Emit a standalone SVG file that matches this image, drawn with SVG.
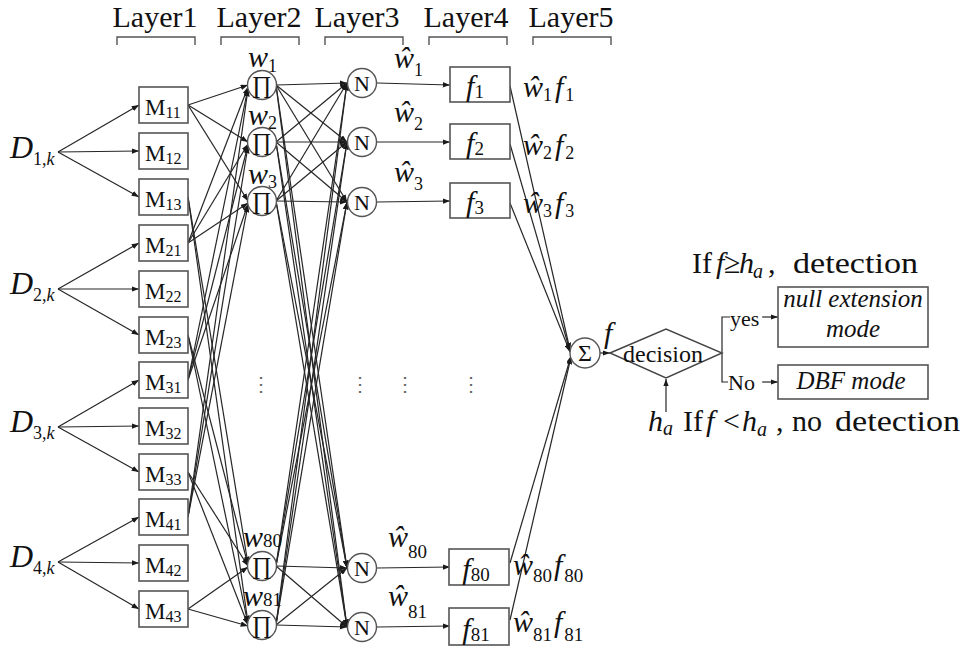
<svg xmlns="http://www.w3.org/2000/svg" width="962" height="650" viewBox="0 0 962 650" font-family="Liberation Serif, Tinos, Times New Roman, DejaVu Serif, serif">
<defs>
<marker id="ah" viewBox="0 0 8 6" refX="8" refY="3" markerWidth="7.5" markerHeight="5.5" markerUnits="userSpaceOnUse" orient="auto">
<path d="M0,0 L8,3 L0,6 z" fill="#1a1a1a"/>
</marker>
<style>
.t{fill:#111}
.i{font-style:italic}
.ln{stroke:#262626;stroke-width:1.2;fill:none}
.a{marker-end:url(#ah)}
.box{fill:#fff;stroke:#555;stroke-width:1.6}
.circ{fill:#fff;stroke:#555;stroke-width:1.4}
.brk{fill:none;stroke:#555;stroke-width:1.4}
.dots{font-size:20px;fill:#666}
</style>
</defs>
<rect width="962" height="650" fill="#fff"/>

<g id="headers" font-size="30" text-anchor="middle">
<text class="t" x="155" y="27">Layer1</text>
<text class="t" x="259" y="27">Layer2</text>
<text class="t" x="357" y="27">Layer3</text>
<text class="t" x="466" y="27">Layer4</text>
<text class="t" x="571" y="27">Layer5</text>
</g>
<g id="brackets" class="brk">
<path d="M117,45 V37 H195 V45"/>
<path d="M221,45 V37 H299 V45"/>
<path d="M325,45 V37 H403 V45"/>
<path d="M429,45 V37 H507 V45"/>
<path d="M533,45 V37 H611 V45"/>
</g>

<g id="connectors">
<g class="ln a">
<path d="M58,152 L139,105"/><path d="M58,152 L139,151"/><path d="M58,152 L139,197"/>
<path d="M58,289 L139,243"/><path d="M58,289 L139,289"/><path d="M58,289 L139,335"/>
<path d="M58,427 L139,380"/><path d="M58,427 L139,426"/><path d="M58,427 L139,472"/>
<path d="M58,562 L139,517"/><path d="M58,562 L139,563"/><path d="M58,562 L139,609"/>
<path d="M188,105 L248,85"/><path d="M188,105 L248,142"/><path d="M188,105 L248,201"/>
<path d="M188,243 L248,87"/><path d="M188,243 L248,144"/><path d="M188,243 L248,203"/>
<path d="M188,380 L248,88"/><path d="M188,380 L248,145"/><path d="M188,380 L248,204"/>
<path d="M188,517 L248,89"/><path d="M188,517 L248,146"/><path d="M188,517 L248,205"/>
<path d="M188,197 L248,564"/><path d="M188,197 L248,623"/>
<path d="M188,335 L248,565"/><path d="M188,335 L248,624"/>
<path d="M188,472 L248,566"/><path d="M188,472 L248,625"/>
<path d="M188,609 L248,567"/><path d="M188,609 L248,626"/>
<path d="M276,85 L347,83"/><path d="M276,85 L347,142"/><path d="M276,85 L347,202"/><path d="M276,85 L347,568"/><path d="M276,85 L347,627"/>
<path d="M276,142 L347,83"/><path d="M276,142 L347,142"/><path d="M276,142 L347,202"/><path d="M276,142 L347,568"/><path d="M276,142 L347,627"/>
<path d="M276,201 L347,83"/><path d="M276,201 L347,142"/><path d="M276,201 L347,202"/><path d="M276,201 L347,568"/><path d="M276,201 L347,627"/>
<path d="M276,566 L347,83"/><path d="M276,566 L347,142"/><path d="M276,566 L347,202"/><path d="M276,566 L347,568"/><path d="M276,566 L347,627"/>
<path d="M276,625 L347,83"/><path d="M276,625 L347,142"/><path d="M276,625 L347,202"/><path d="M276,625 L347,568"/><path d="M276,625 L347,627"/>
<path d="M377,83 L450,85"/><path d="M377,142 L450,142"/><path d="M377,202 L450,201"/>
<path d="M377,568 L450,567"/><path d="M377,627 L450,626"/>
<path d="M510,86 L570,350"/><path d="M510,144 L570,351"/><path d="M510,203 L570,352"/>
<path d="M510,563 L571,356"/><path d="M510,620 L571,357"/>
<path d="M600,353 L610,353"/>
<path d="M666,412 L666,379"/>
<path d="M762,317 L778,317"/>
<path d="M762,382 L778,382"/>
</g>
<path class="ln" d="M730,317 H722 V382 H728"/>
</g>

<g id="D1"><text class="t" x="10" y="158"><tspan class="i" font-size="32">D</tspan><tspan font-size="18" dy="7">1,</tspan><tspan class="i" font-size="18">k</tspan></text></g>
<g id="D2"><text class="t" x="10" y="294"><tspan class="i" font-size="32">D</tspan><tspan font-size="18" dy="7">2,</tspan><tspan class="i" font-size="18">k</tspan></text></g>
<g id="D3"><text class="t" x="10" y="432"><tspan class="i" font-size="32">D</tspan><tspan font-size="18" dy="7">3,</tspan><tspan class="i" font-size="18">k</tspan></text></g>
<g id="D4"><text class="t" x="10" y="567"><tspan class="i" font-size="32">D</tspan><tspan font-size="18" dy="7">4,</tspan><tspan class="i" font-size="18">k</tspan></text></g>

<g id="M11"><rect class="box" x="139" y="87" width="49" height="36"/><text class="t" x="145" y="115" font-size="23">M<tspan font-size="16" dy="3">11</tspan></text></g>
<g id="M12"><rect class="box" x="139" y="133" width="49" height="36"/><text class="t" x="145" y="161" font-size="23">M<tspan font-size="16" dy="3">12</tspan></text></g>
<g id="M13"><rect class="box" x="139" y="179" width="49" height="36"/><text class="t" x="145" y="207" font-size="23">M<tspan font-size="16" dy="3">13</tspan></text></g>
<g id="M21"><rect class="box" x="139" y="225" width="49" height="36"/><text class="t" x="145" y="253" font-size="23">M<tspan font-size="16" dy="3">21</tspan></text></g>
<g id="M22"><rect class="box" x="139" y="271" width="49" height="36"/><text class="t" x="145" y="299" font-size="23">M<tspan font-size="16" dy="3">22</tspan></text></g>
<g id="M23"><rect class="box" x="139" y="317" width="49" height="36"/><text class="t" x="145" y="345" font-size="23">M<tspan font-size="16" dy="3">23</tspan></text></g>
<g id="M31"><rect class="box" x="139" y="362" width="49" height="36"/><text class="t" x="145" y="390" font-size="23">M<tspan font-size="16" dy="3">31</tspan></text></g>
<g id="M32"><rect class="box" x="139" y="408" width="49" height="36"/><text class="t" x="145" y="436" font-size="23">M<tspan font-size="16" dy="3">32</tspan></text></g>
<g id="M33"><rect class="box" x="139" y="454" width="49" height="36"/><text class="t" x="145" y="482" font-size="23">M<tspan font-size="16" dy="3">33</tspan></text></g>
<g id="M41"><rect class="box" x="139" y="499" width="49" height="36"/><text class="t" x="145" y="527" font-size="23">M<tspan font-size="16" dy="3">41</tspan></text></g>
<g id="M42"><rect class="box" x="139" y="545" width="49" height="36"/><text class="t" x="145" y="573" font-size="23">M<tspan font-size="16" dy="3">42</tspan></text></g>
<g id="M43"><rect class="box" x="139" y="591" width="49" height="36"/><text class="t" x="145" y="619" font-size="23">M<tspan font-size="16" dy="3">43</tspan></text></g>

<g id="P1"><circle class="circ" cx="262" cy="85" r="14.5"/><text class="t" x="262" y="93" font-size="24" text-anchor="middle">∏</text><text class="t" x="248" y="67"><tspan class="i" font-size="30">w</tspan><tspan font-size="18" dy="5">1</tspan></text></g>
<g id="P2"><circle class="circ" cx="262" cy="142" r="14.5"/><text class="t" x="262" y="150" font-size="24" text-anchor="middle">∏</text><text class="t" x="248" y="125"><tspan class="i" font-size="30">w</tspan><tspan font-size="18" dy="4">2</tspan></text></g>
<g id="P3"><circle class="circ" cx="262" cy="201" r="14.5"/><text class="t" x="262" y="209" font-size="24" text-anchor="middle">∏</text><text class="t" x="248" y="184"><tspan class="i" font-size="30">w</tspan><tspan font-size="18" dy="4">3</tspan></text></g>
<g id="P80"><circle class="circ" cx="262" cy="566" r="14.5"/><text class="t" x="262" y="574" font-size="24" text-anchor="middle">∏</text><text class="t" x="243" y="547"><tspan class="i" font-size="30">w</tspan><tspan font-size="19">80</tspan></text></g>
<g id="P81"><circle class="circ" cx="262" cy="625" r="14.5"/><text class="t" x="262" y="633" font-size="24" text-anchor="middle">∏</text><text class="t" x="243" y="606"><tspan class="i" font-size="30">w</tspan><tspan font-size="19">81</tspan></text></g>

<g id="N1"><circle class="circ" cx="362" cy="83" r="14.5"/><text class="t" x="362" y="91" font-size="22" text-anchor="middle">N</text><text class="t" x="394" y="68"><tspan class="i" font-size="30">ŵ</tspan><tspan font-size="18" dy="8">1</tspan></text></g>
<g id="N2"><circle class="circ" cx="362" cy="142" r="14.5"/><text class="t" x="362" y="150" font-size="22" text-anchor="middle">N</text><text class="t" x="394" y="122"><tspan class="i" font-size="30">ŵ</tspan><tspan font-size="18" dy="8">2</tspan></text></g>
<g id="N3"><circle class="circ" cx="362" cy="202" r="14.5"/><text class="t" x="362" y="210" font-size="22" text-anchor="middle">N</text><text class="t" x="394" y="182"><tspan class="i" font-size="30">ŵ</tspan><tspan font-size="18" dy="8">3</tspan></text></g>
<g id="N80"><circle class="circ" cx="362" cy="568" r="14.5"/><text class="t" x="362" y="576" font-size="22" text-anchor="middle">N</text><text class="t" x="388" y="547"><tspan class="i" font-size="30">ŵ</tspan><tspan font-size="19" dy="11">80</tspan></text></g>
<g id="N81"><circle class="circ" cx="362" cy="627" r="14.5"/><text class="t" x="362" y="635" font-size="22" text-anchor="middle">N</text><text class="t" x="388" y="606"><tspan class="i" font-size="30">ŵ</tspan><tspan font-size="19" dy="12">81</tspan></text></g>

<g id="F1"><rect class="box" x="450" y="67" width="60" height="35"/><text class="t" x="475" y="96" text-anchor="middle"><tspan class="i" font-size="30">f</tspan><tspan font-size="19" dy="2">1</tspan></text><text class="t" x="523" y="97"><tspan class="i" font-size="30">ŵ</tspan><tspan font-size="18" dy="4">1</tspan><tspan class="i" font-size="30" dy="-4" dx="3">f</tspan><tspan font-size="18" dy="4" dx="2">1</tspan></text></g>
<g id="F2"><rect class="box" x="450" y="124" width="60" height="35"/><text class="t" x="475" y="153" text-anchor="middle"><tspan class="i" font-size="30">f</tspan><tspan font-size="19" dy="2">2</tspan></text><text class="t" x="523" y="155"><tspan class="i" font-size="30">ŵ</tspan><tspan font-size="18" dy="4">2</tspan><tspan class="i" font-size="30" dy="-4" dx="3">f</tspan><tspan font-size="18" dy="4" dx="2">2</tspan></text></g>
<g id="F3"><rect class="box" x="450" y="183" width="60" height="35"/><text class="t" x="475" y="212" text-anchor="middle"><tspan class="i" font-size="30">f</tspan><tspan font-size="19" dy="2">3</tspan></text><text class="t" x="523" y="213"><tspan class="i" font-size="30">ŵ</tspan><tspan font-size="18" dy="4">3</tspan><tspan class="i" font-size="30" dy="-4" dx="3">f</tspan><tspan font-size="18" dy="4" dx="2">3</tspan></text></g>
<g id="F80"><rect class="box" x="449" y="549" width="60" height="36"/><text class="t" x="476" y="579" text-anchor="middle"><tspan class="i" font-size="30">f</tspan><tspan font-size="19" dy="2">80</tspan></text><text class="t" x="513" y="575"><tspan class="i" font-size="30">ŵ</tspan><tspan font-size="19" dy="7">80</tspan><tspan class="i" font-size="30" dy="-7" dx="2">f</tspan><tspan font-size="19" dy="7" dx="2">80</tspan></text></g>
<g id="F81"><rect class="box" x="449" y="608" width="60" height="37"/><text class="t" x="476" y="639" text-anchor="middle"><tspan class="i" font-size="30">f</tspan><tspan font-size="19" dy="2">81</tspan></text><text class="t" x="513" y="632"><tspan class="i" font-size="30">ŵ</tspan><tspan font-size="19" dy="9">81</tspan><tspan class="i" font-size="30" dy="-9" dx="2">f</tspan><tspan font-size="19" dy="9" dx="2">81</tspan></text></g>

<g id="ellipses">
<text class="dots" x="261" y="391" text-anchor="middle">⋮</text>
<text class="dots" x="360" y="391" text-anchor="middle">⋮</text>
<text class="dots" x="405" y="391" text-anchor="middle">⋮</text>
<text class="dots" x="471" y="391" text-anchor="middle">⋮</text>
</g>

<g id="SUM"><circle class="circ" cx="585" cy="353" r="15"/><text class="t" x="585" y="361" font-size="24" text-anchor="middle">Σ</text><text class="t i" x="604" y="343" font-size="30">f</text></g>

<g id="decision"><path d="M610,353 L666,329 L722,353 L666,378 Z" fill="#fff" stroke="#444" stroke-width="1.4"/><text class="t" x="663" y="362" font-size="24" text-anchor="middle">decision</text></g>

<g id="ha"><text class="t" x="648" y="431"><tspan class="i" font-size="30">h</tspan><tspan class="i" font-size="20" dy="4">a</tspan></text></g>

<g id="labels-branch">
<text class="t" x="730" y="326" font-size="22" fill="#333">yes</text>
<text class="t" x="728" y="390" font-size="22" fill="#333">No</text>
</g>

<g id="nullmode"><rect class="box" x="778" y="287" width="150" height="60"/><text class="t i" x="853" y="307" font-size="25" text-anchor="middle">null extension</text><text class="t i" x="853" y="337" font-size="25" text-anchor="middle">mode</text></g>
<g id="dbfmode"><rect class="box" x="778" y="365" width="150" height="34"/><text class="t i" x="851" y="389" font-size="25" text-anchor="middle">DBF mode</text></g>

<g id="cond-top">
<text class="t" y="273" font-size="30"><tspan x="692">If</tspan><tspan class="i" x="716">f</tspan><tspan x="724">≥</tspan><tspan class="i" x="739">h</tspan><tspan class="i" font-size="20" x="753" dy="5">a</tspan><tspan x="768" dy="-5">,</tspan><tspan x="793" textLength="125" lengthAdjust="spacingAndGlyphs">detection</tspan></text>
</g>
<g id="cond-bottom">
<text class="t" y="431" font-size="30"><tspan x="683">If</tspan><tspan class="i" x="706">f</tspan><tspan x="723">&lt;</tspan><tspan class="i" x="742">h</tspan><tspan class="i" font-size="20" x="757" dy="5">a</tspan><tspan x="776" dy="-5">,</tspan><tspan x="792">no</tspan><tspan x="835" textLength="125" lengthAdjust="spacingAndGlyphs">detection</tspan></text>
</g>
</svg>
